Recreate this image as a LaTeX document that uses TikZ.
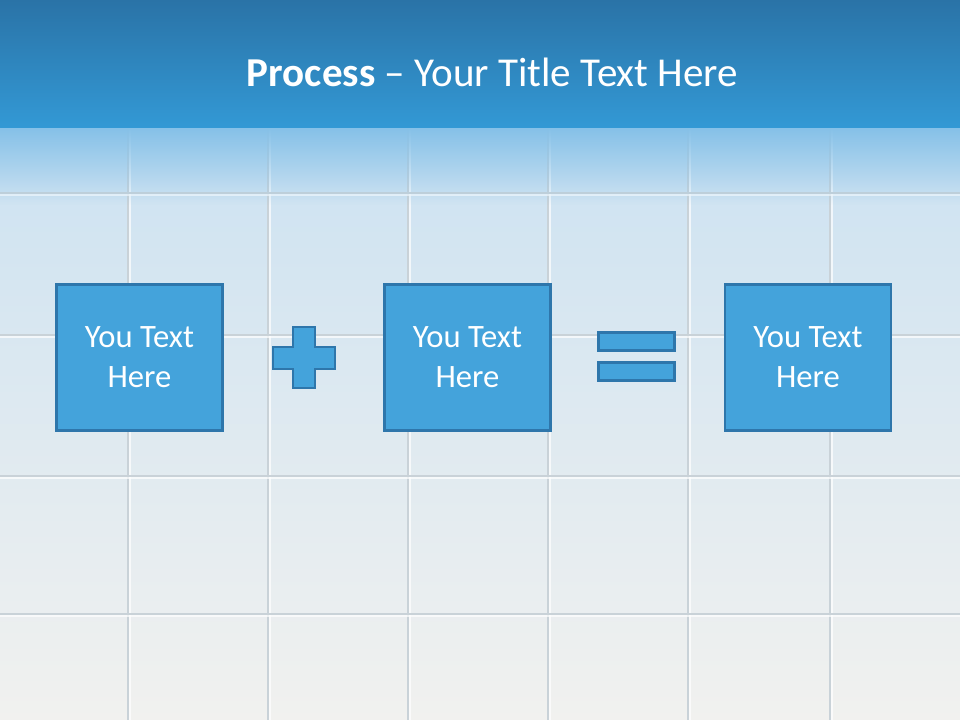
\documentclass[tikz,border=0pt]{standalone}
\usepackage{fontspec}
\setmainfont{Carlito}
\usetikzlibrary{fadings}
\definecolor{HeadTop}{HTML}{2A73A7}
\definecolor{HeadBot}{HTML}{3399D5}
\definecolor{HeadFade}{HTML}{86C1E8}
\definecolor{WallTop}{HTML}{CCE2F2}
\definecolor{WallMid}{HTML}{DDEAF2}
\definecolor{WallBot}{HTML}{F1F1EF}
\definecolor{TileGap}{HTML}{C9D2D8}
\definecolor{BoxFill}{HTML}{44A3DB}
\definecolor{BoxLine}{HTML}{2E76AB}
\tikzset{
    textbox/.style={
        draw=BoxLine,
        fill=BoxFill,
        line width=1.8pt,
        minimum width=4.16cm,
        minimum height=3.66cm,
        text=white,
        font=\fontsize{23.2}{28.4}\selectfont,
        align=center,
        inner sep=0pt
    },
    opbar/.style={
        draw=BoxLine,
        fill=BoxFill,
        line width=1.8pt,
        minimum width=1.9cm,
        minimum height=0.45cm,
        inner sep=0pt
    },
    tilegap/.style={
        TileGap,
        line width=1.8pt
    },
    tileshine/.style={
        white,
        line width=1pt,
        opacity=0.7
    },
    titletext/.style={
        text=white,
        font=\fontsize{29.2}{34}\selectfont,
        inner sep=0pt
    }
}
\begin{document}
\begin{tikzpicture}[x=0.025cm, y=-0.025cm]
        \useasboundingbox (0,0) rectangle (960,720);

        % Tiled wall
        \shade[top color=WallTop, middle color=WallMid, bottom color=WallBot] (0,128) rectangle (960,720);
        \foreach \x in {128,268,408,548,688,830} {
            \draw[tilegap] (\x,128) -- (\x,720);
            \draw[tileshine] (\x+2,128) -- (\x+2,720);
        }
        \foreach \y in {193,335,476,614} {
            \draw[tilegap] (0,\y) -- (960,\y);
            \draw[tileshine] (0,\y+2) -- (960,\y+2);
        }

        % Header band
        \shade[top color=HeadTop, bottom color=HeadBot] (0,0) rectangle (960,128);
        \fill[HeadFade, path fading=south] (0,128) rectangle (960,205);
        \node[titletext, anchor=base] (title) at (492.5,87) {\textbf{Process} – Your Title Text Here};

        % Boxes
        \node[textbox] (left) at (139.5,357.5) {You Text\\Here};
        \node[textbox] (middle) at (467.5,357.5) {You Text\\Here};
        \node[textbox] (right) at (808,357.5) {You Text\\Here};

        % Plus sign
        \draw[draw=BoxLine, fill=BoxFill, line width=1.8pt]
            (293,327) -- (315,327) -- (315,347) -- (335,347) -- (335,369) -- (315,369)
            -- (315,388) -- (293,388) -- (293,369) -- (273,369) -- (273,347) -- (293,347) -- cycle;

        % Equals sign
        \node[opbar] (eqtop) at (636.5,341.5) {};
        \node[opbar] (eqbot) at (636.5,371.5) {};
    \end{tikzpicture}
\end{document}
